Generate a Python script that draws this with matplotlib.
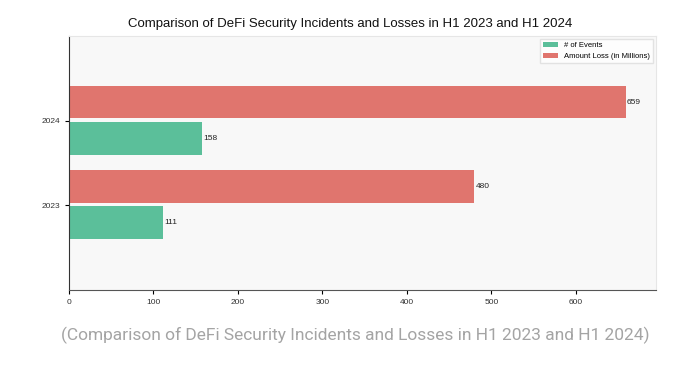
import matplotlib
matplotlib.use("Agg")
import matplotlib.pyplot as plt
import numpy as np

years = ["2023", "2024"]
events = [111, 158]
losses = [480, 659]
series_labels = ["# of Events", "Amount Loss (in Millions)"]

fig = plt.figure(figsize=(7, 3.71), dpi=100)
ax = fig.add_axes([0.0986, 0.218, 0.8386, 0.685])
ax.set_facecolor("#f8f8f8")

y = np.arange(len(years))
h = 0.39
green = "#5bbf9a"
red = "#e0756e"
b1 = ax.barh(y - 0.205, events, height=h, color=green, label=series_labels[0])
b2 = ax.barh(y + 0.225, losses, height=h, color=red, label=series_labels[1])

for bars, vals in ((b1, events), (b2, losses)):
    for bar, v in zip(bars, vals):
        ax.text(bar.get_width() + 1.5, bar.get_y() + bar.get_height() / 2, str(v),
                va="center", ha="left", fontsize=6, family="Liberation Sans", color="#222222")

ax.set_yticks(y)
ax.set_yticklabels(years)
ax.set_ylim(-1.01, 2.01)
ax.set_xlim(0, 695)
ax.set_xticks([0, 100, 200, 300, 400, 500, 600])
ax.tick_params(labelsize=6, length=3, width=0.8)
for lab in ax.get_xticklabels() + ax.get_yticklabels():
    lab.set_family("Liberation Sans")
    lab.set_color("#333333")

ax.spines["top"].set_color("#e6e6e6")
ax.spines["right"].set_color("#e6e6e6")
ax.spines["left"].set_color("#333333")
ax.spines["bottom"].set_color("#555555")

leg = ax.legend(loc="upper right", prop={"family": "Liberation Sans", "size": 5.5},
                frameon=True, fancybox=False, edgecolor="#dddddd", handlelength=2.0, handleheight=0.6,
                borderaxespad=0.4)
leg.get_frame().set_facecolor("#ffffff")

fig.text(0.5, 0.936, "Comparison of DeFi Security Incidents and Losses in H1 2023 and H1 2024",
         ha="center", va="center", fontsize=9.5, family="Liberation Sans", color="#111111")
fig.text(0.507, 0.097, "(Comparison of DeFi Security Incidents and Losses in H1 2023 and H1 2024)",
         ha="center", va="center", fontsize=12.5, family="Roboto", color="#a4a4a4")

fig.savefig("out.png", dpi=100)
